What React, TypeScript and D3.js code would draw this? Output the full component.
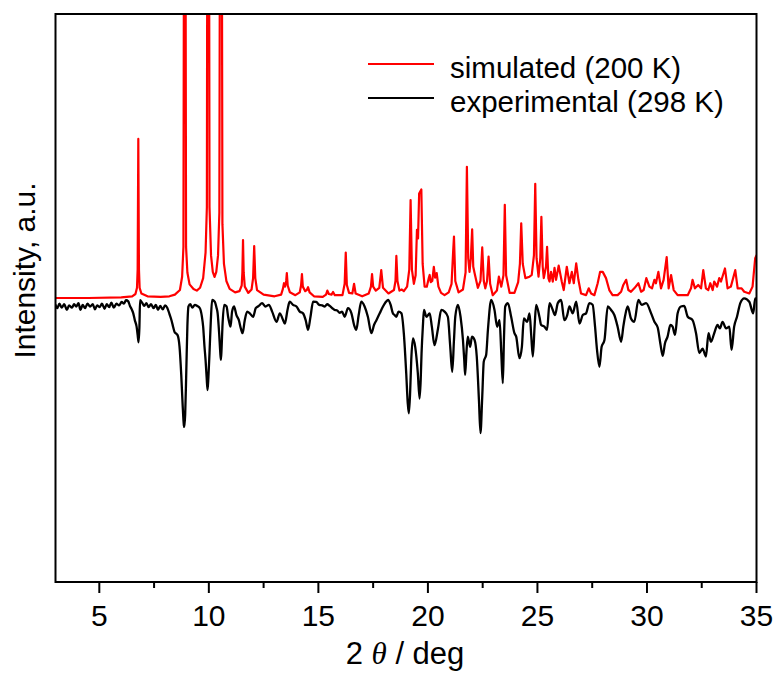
import React from 'react';
import * as d3 from 'd3';

// ---- data (2θ in degrees, intensity in arbitrary units) ----
const xMajorTicks = [5, 10, 15, 20, 25, 30, 35];
const xMinorTicks = [7.5, 12.5, 17.5, 22.5, 27.5, 32.5];
const seriesNames = ['simulated (200 K)', 'experimental (298 K)'];
const seriesColors = ['#ff0000', '#000000'];
const xAxisTitleParts = ['2 ', 'θ', ' / deg'];
const yAxisTitle = 'Intensity, a.u.';

const simulated: [number, number][] = [
  [3.0, 50.0], [4.5, 50.0], [6.0, 50.1], [6.5, 50.3], [6.65, 50.7], [6.72, 51.8], [6.75, 55.0],
  [6.78, 78.0], [6.81, 55.0], [6.84, 51.8], [6.92, 50.8], [7.2, 50.3], [7.8, 50.2], [8.2, 50.3],
  [8.45, 50.6], [8.68, 51.4], [8.78, 53.75], [8.84, 59.0], [8.9, 200], [8.96, 59.0], [9.02, 54.5],
  [9.12, 52.4], [9.3, 51.6], [9.45, 51.3], [9.6, 51.8], [9.74, 53.5], [9.85, 58.0], [9.91, 66.0],
  [9.97, 230], [10.03, 66.0], [10.1, 57.5], [10.18, 54.6], [10.26, 53.7], [10.34, 54.6], [10.42, 57.5],
  [10.48, 65.0], [10.55, 210], [10.62, 63.0], [10.69, 56.0], [10.8, 53.0], [10.95, 51.6], [11.2, 51.0],
  [11.4, 51.2], [11.5, 52.2], [11.53, 54.5], [11.56, 60.2], [11.59, 54.5], [11.64, 52.0], [11.8, 50.9],
  [11.95, 51.5], [12.02, 53.5], [12.07, 59.15], [12.12, 53.5], [12.2, 51.4], [12.5, 50.6], [13.0, 50.3],
  [13.3, 50.6], [13.38, 51.6], [13.43, 52.6], [13.48, 52.0], [13.53, 53.0], [13.56, 54.4], [13.6, 52.2],
  [13.7, 51.0], [13.95, 50.5], [14.15, 51.0], [14.21, 52.2], [14.25, 54.2], [14.29, 52.0], [14.4, 51.2],
  [14.47, 51.4], [14.53, 51.9], [14.6, 51.0], [14.8, 50.3], [15.2, 50.2], [15.35, 50.6], [15.41, 51.3],
  [15.48, 50.7], [15.6, 50.6], [15.67, 51.06], [15.75, 50.5], [16.1, 50.5], [16.2, 52.5], [16.25, 58.0],
  [16.3, 52.3], [16.4, 50.9], [16.55, 50.8], [16.63, 52.5], [16.7, 50.8], [17.0, 50.3], [17.3, 50.8],
  [17.4, 52.0], [17.45, 54.2], [17.5, 52.0], [17.62, 51.3], [17.78, 51.8], [17.87, 54.9], [17.95, 51.8],
  [18.2, 50.8], [18.45, 51.4], [18.52, 53.0], [18.56, 57.4], [18.61, 53.0], [18.7, 51.3], [18.81, 51.5],
  [18.9, 51.2], [19.05, 52.0], [19.15, 55.0], [19.21, 67.25], [19.27, 55.0], [19.36, 52.5], [19.44, 54.0],
  [19.5, 62.0], [19.55, 60.5], [19.6, 68.4], [19.7, 69.1], [19.76, 56.0], [19.85, 52.0], [19.95, 52.0],
  [20.04, 53.5], [20.08, 54.05], [20.13, 52.8], [20.2, 53.0], [20.27, 55.5], [20.33, 53.6], [20.4, 54.4],
  [20.48, 52.0], [20.6, 50.9], [20.76, 50.5], [20.95, 51.0], [21.08, 52.5], [21.15, 58.0], [21.19, 60.8],
  [21.25, 53.0], [21.4, 51.0], [21.6, 51.5], [21.72, 54.5], [21.78, 73.1], [21.84, 57.0], [21.9, 54.6],
  [21.96, 57.0], [22.02, 62.1], [22.07, 55.5], [22.13, 54.4], [22.28, 51.8], [22.4, 53.0], [22.48, 58.9],
  [22.55, 53.0], [22.62, 51.7], [22.7, 53.0], [22.77, 57.3], [22.84, 52.5], [22.96, 50.5], [23.15, 51.3],
  [23.24, 53.75], [23.35, 52.0], [23.45, 54.0], [23.51, 66.4], [23.57, 54.0], [23.73, 50.9], [23.95, 50.9],
  [24.12, 52.8], [24.2, 56.0], [24.26, 63.15], [24.33, 56.0], [24.45, 53.5], [24.64, 53.75], [24.74, 54.05],
  [24.84, 57.5], [24.9, 70.1], [24.96, 57.0], [25.05, 53.75], [25.13, 57.0], [25.18, 64.3], [25.24, 55.5],
  [25.29, 53.5], [25.39, 55.5], [25.44, 59.0], [25.5, 53.5], [25.55, 52.9], [25.62, 54.6], [25.7, 52.9],
  [25.78, 55.3], [25.85, 53.2], [25.97, 55.7], [26.11, 52.9], [26.2, 51.4], [26.34, 55.5], [26.46, 52.6],
  [26.57, 54.6], [26.66, 52.6], [26.77, 56.1], [26.87, 53.2], [26.99, 50.8], [27.22, 50.5], [27.34, 51.7],
  [27.45, 50.8], [27.6, 50.5], [27.75, 52.6], [27.86, 54.6], [27.98, 54.6], [28.13, 53.5], [28.28, 51.4],
  [28.43, 50.5], [28.66, 50.5], [28.82, 51.1], [28.92, 52.3], [29.05, 53.2], [29.15, 51.4], [29.27, 51.1],
  [29.42, 51.7], [29.61, 52.6], [29.73, 51.1], [29.85, 51.4], [29.97, 53.5], [30.11, 52.0], [30.23, 51.7],
  [30.34, 53.2], [30.41, 52.6], [30.52, 54.6], [30.64, 51.7], [30.76, 53.2], [30.9, 57.2], [30.99, 51.7],
  [31.1, 54.05], [31.22, 51.4], [31.4, 50.5], [31.86, 50.5], [32.01, 51.7], [32.08, 53.2], [32.19, 51.7],
  [32.34, 52.3], [32.47, 51.7], [32.57, 54.9], [32.69, 51.7], [32.8, 51.4], [32.89, 52.6], [33.0, 51.4],
  [33.07, 52.9], [33.2, 52.0], [33.3, 53.5], [33.38, 52.9], [33.56, 55.2], [33.68, 51.7], [33.83, 52.0],
  [34.03, 54.9], [34.14, 51.7], [34.32, 51.7], [34.44, 51.1], [34.67, 50.8], [34.82, 52.0], [34.94, 57.0],
  [35.0, 57.5],
];

const experimental: [number, number][] = [
  [3.0, 48.8], [3.08, 48.2], [3.18, 49.0], [3.28, 48.3], [3.4, 48.9], [3.52, 47.9], [3.62, 48.7],
  [3.75, 48.3], [3.85, 48.9], [3.95, 48.5], [4.05, 49.1], [4.14, 47.9], [4.24, 48.8], [4.35, 48.2],
  [4.46, 49.0], [4.58, 48.5], [4.7, 48.9], [4.8, 48.0], [4.9, 48.7], [5.02, 48.4], [5.12, 49.0],
  [5.24, 48.1], [5.34, 48.9], [5.45, 48.4], [5.55, 49.2], [5.66, 48.3], [5.78, 49.0], [5.9, 48.7],
  [6.02, 49.3], [6.12, 49.0], [6.22, 49.6], [6.32, 49.4], [6.4, 48.6], [6.48, 48.0], [6.55, 47.3],
  [6.62, 46.1], [6.7, 45.0], [6.75, 43.5], [6.79, 42.2], [6.83, 44.8], [6.86, 49.6], [6.95, 49.2],
  [7.05, 48.6], [7.15, 49.1], [7.25, 48.4], [7.36, 48.9], [7.48, 48.2], [7.58, 48.8], [7.68, 47.9],
  [7.78, 48.6], [7.9, 48.0], [8.0, 48.7], [8.1, 48.3], [8.2, 47.2], [8.3, 46.0], [8.37, 44.9],
  [8.45, 43.9], [8.52, 43.7], [8.58, 43.4], [8.66, 41.5], [8.74, 36.5], [8.8, 31.5], [8.86, 27.6],
  [8.88, 27.3], [8.92, 29.5], [8.97, 37.0], [9.02, 45.0], [9.07, 48.5], [9.15, 48.9], [9.25, 48.3],
  [9.36, 48.8], [9.47, 48.6], [9.59, 48.2], [9.68, 46.8], [9.74, 44.95], [9.8, 41.5], [9.85, 39.1],
  [9.9, 36.0], [9.94, 33.8], [9.98, 36.0], [10.03, 40.3], [10.09, 46.0], [10.15, 49.65], [10.27, 49.35],
  [10.35, 48.3], [10.4, 47.35], [10.47, 43.8], [10.52, 40.5], [10.55, 39.1], [10.58, 41.0], [10.62, 44.95],
  [10.7, 48.8], [10.81, 48.5], [10.88, 46.7], [10.95, 45.4], [10.99, 44.95], [11.06, 47.6], [11.15, 48.5],
  [11.26, 47.0], [11.37, 46.1], [11.46, 44.65], [11.54, 43.8], [11.64, 46.1], [11.75, 47.6], [11.87, 47.3],
  [12.02, 46.7], [12.14, 48.2], [12.28, 48.6], [12.43, 49.1], [12.59, 48.5], [12.74, 48.8], [12.89, 47.6],
  [13.09, 45.8], [13.24, 47.3], [13.36, 46.4], [13.47, 45.5], [13.59, 47.9], [13.69, 49.35], [13.84, 48.8],
  [14.0, 48.5], [14.15, 47.6], [14.3, 47.3], [14.42, 46.1], [14.53, 44.4], [14.64, 46.7], [14.76, 49.35],
  [14.9, 49.3], [15.04, 48.8], [15.18, 48.7], [15.29, 48.5], [15.4, 48.9], [15.52, 48.6], [15.64, 48.2],
  [15.75, 47.9], [15.86, 47.8], [15.97, 47.4], [16.08, 47.6], [16.2, 46.7], [16.35, 48.2], [16.51, 47.3],
  [16.63, 45.25], [16.73, 44.4], [16.84, 47.0], [16.96, 49.35], [17.11, 48.5], [17.26, 46.7], [17.42, 43.8],
  [17.54, 45.25], [17.65, 46.1], [17.8, 47.3], [17.95, 48.5], [18.06, 49.2], [18.18, 49.65], [18.3, 48.8],
  [18.4, 47.3], [18.48, 47.0], [18.56, 46.7], [18.66, 47.6], [18.79, 47.3], [18.9, 43.8], [19.01, 36.75],
  [19.08, 31.5], [19.13, 29.7], [19.19, 33.5], [19.24, 39.1], [19.32, 42.9], [19.42, 41.4], [19.54, 36.75],
  [19.62, 32.3], [19.67, 35.5], [19.71, 40.3], [19.77, 45.0], [19.82, 47.9], [19.93, 46.7], [20.08, 47.3],
  [20.18, 44.95], [20.3, 41.7], [20.46, 44.6], [20.61, 47.9], [20.76, 47.6], [20.91, 46.7], [21.02, 41.4],
  [21.11, 37.0], [21.19, 42.6], [21.25, 46.7], [21.37, 48.8], [21.49, 46.7], [21.6, 42.6], [21.66, 39.0],
  [21.7, 36.45], [21.76, 40.5], [21.82, 43.2], [21.93, 41.4], [22.01, 43.2], [22.13, 42.6], [22.23, 39.7],
  [22.33, 32.0], [22.4, 26.2], [22.48, 32.6], [22.55, 38.8], [22.66, 40.0], [22.74, 44.4], [22.89, 49.65],
  [23.04, 47.9], [23.16, 44.95], [23.27, 46.1], [23.35, 40.3], [23.42, 35.0], [23.47, 42.6], [23.53, 48.5],
  [23.65, 49.1], [23.8, 46.7], [23.95, 43.8], [24.03, 43.2], [24.18, 39.4], [24.29, 41.4], [24.38, 46.4],
  [24.53, 45.8], [24.64, 47.3], [24.72, 43.2], [24.79, 39.7], [24.87, 44.95], [24.94, 48.8], [25.09, 46.7],
  [25.17, 45.25], [25.32, 44.95], [25.44, 44.4], [25.55, 49.1], [25.7, 47.9], [25.8, 47.0], [25.93, 49.1],
  [26.08, 49.65], [26.23, 46.1], [26.36, 47.0], [26.46, 48.5], [26.61, 47.3], [26.77, 49.35], [26.92, 45.5],
  [27.07, 47.0], [27.22, 47.3], [27.37, 49.1], [27.52, 48.8], [27.63, 44.95], [27.72, 40.85], [27.83, 37.9],
  [27.93, 41.4], [28.06, 42.6], [28.21, 48.5], [28.36, 47.9], [28.51, 47.0], [28.66, 44.95], [28.82, 42.3],
  [28.92, 44.95], [29.01, 47.0], [29.12, 48.5], [29.27, 46.4], [29.42, 45.8], [29.61, 49.65], [29.76, 48.8],
  [29.96, 49.1], [30.19, 47.3], [30.34, 45.8], [30.49, 44.8], [30.61, 42.0], [30.72, 39.8], [30.82, 42.0],
  [30.94, 43.2], [31.07, 45.25], [31.17, 44.95], [31.28, 43.5], [31.4, 47.3], [31.55, 48.5], [31.7, 48.6],
  [31.86, 46.7], [32.08, 46.1], [32.24, 43.8], [32.39, 40.3], [32.54, 41.1], [32.69, 39.7], [32.81, 43.8],
  [32.92, 42.3], [33.07, 43.8], [33.22, 45.25], [33.33, 44.65], [33.45, 45.8], [33.61, 44.65], [33.76, 44.95],
  [33.86, 40.85], [33.98, 44.95], [34.11, 46.7], [34.26, 49.1], [34.44, 49.95], [34.67, 49.35], [34.85, 47.3],
  [34.94, 49.95], [35.0, 49.8],
];

const X_DOMAIN: [number, number] = [3, 35];
const Y_DOMAIN: [number, number] = [0, 100];

export default function App() {
  const W = 778;
  const H = 675;
  const left = 55.5;
  const right = 756.5;
  const top = 14;
  const bottom = 582;
  const font = "'Liberation Sans', Arial, Helvetica, sans-serif";

  const x = d3.scaleLinear().domain(X_DOMAIN).range([left, right]);
  const y = d3.scaleLinear().domain(Y_DOMAIN).range([bottom, top]);
  const simLine = d3
    .line<[number, number]>()
    .x((d) => x(d[0]))
    .y((d) => y(d[1]))
    .curve(d3.curveLinear);
  const expLine = d3
    .line<[number, number]>()
    .x((d) => x(d[0]))
    .y((d) => y(d[1]))
    .curve(d3.curveMonotoneX);

  const legendX1 = 368;
  const legendX2 = 434;
  const legendRows = [64, 98];

  return (
    <svg
      width={W}
      height={H}
      viewBox={`0 0 ${W} ${H}`}
      style={{ position: 'absolute', left: 0, top: 0, display: 'block', background: '#fff' }}
    >
      <defs>
        <clipPath id="plotClip">
          <rect x={left} y={top} width={right - left} height={bottom - top} />
        </clipPath>
      </defs>
      <rect x={0} y={0} width={W} height={H} fill="#fff" />

      <g clipPath="url(#plotClip)" fill="none" strokeLinejoin="round" strokeLinecap="round">
        <path d={expLine(experimental) || ''} stroke={seriesColors[1]} strokeWidth={2.3} />
        <path d={simLine(simulated) || ''} stroke={seriesColors[0]} strokeWidth={2.2} />
      </g>

      {/* frame */}
      <rect x={left} y={top} width={right - left} height={bottom - top} fill="none" stroke="#000" strokeWidth={2} />

      {/* x ticks */}
      {xMajorTicks.map((t) => (
        <line key={'M' + t} x1={x(t)} x2={x(t)} y1={bottom} y2={bottom + 11} stroke="#000" strokeWidth={2} />
      ))}
      {xMinorTicks.map((t) => (
        <line key={'m' + t} x1={x(t)} x2={x(t)} y1={bottom} y2={bottom + 6} stroke="#000" strokeWidth={2} />
      ))}
      {xMajorTicks.map((t) => (
        <text key={'L' + t} x={x(t)} y={626} textAnchor="middle" fontFamily={font} fontSize={30} fill="#000">
          {String(t)}
        </text>
      ))}

      {/* x title */}
      <text x={405} y={664} textAnchor="middle" fontFamily={font} fontSize={31} fill="#000">
        <tspan>{xAxisTitleParts[0]}</tspan>
        <tspan fontFamily="'Liberation Serif', 'Times New Roman', serif" fontStyle="italic">
          {xAxisTitleParts[1]}
        </tspan>
        <tspan>{xAxisTitleParts[2]}</tspan>
      </text>

      {/* y title */}
      <text
        transform={`translate(35, 270.5) rotate(-90)`}
        textAnchor="middle"
        fontFamily={font}
        fontSize={30}
        fill="#000"
      >
        {yAxisTitle}
      </text>

      {/* legend */}
      {seriesNames.map((name, i) => (
        <g key={name}>
          <line x1={legendX1} x2={legendX2} y1={legendRows[i]} y2={legendRows[i]} stroke={seriesColors[i]} strokeWidth={2} />
          <text x={450} y={legendRows[i] + 14} fontFamily={font} fontSize={29.5} fill="#000">
            {name}
          </text>
        </g>
      ))}
    </svg>
  );
}
